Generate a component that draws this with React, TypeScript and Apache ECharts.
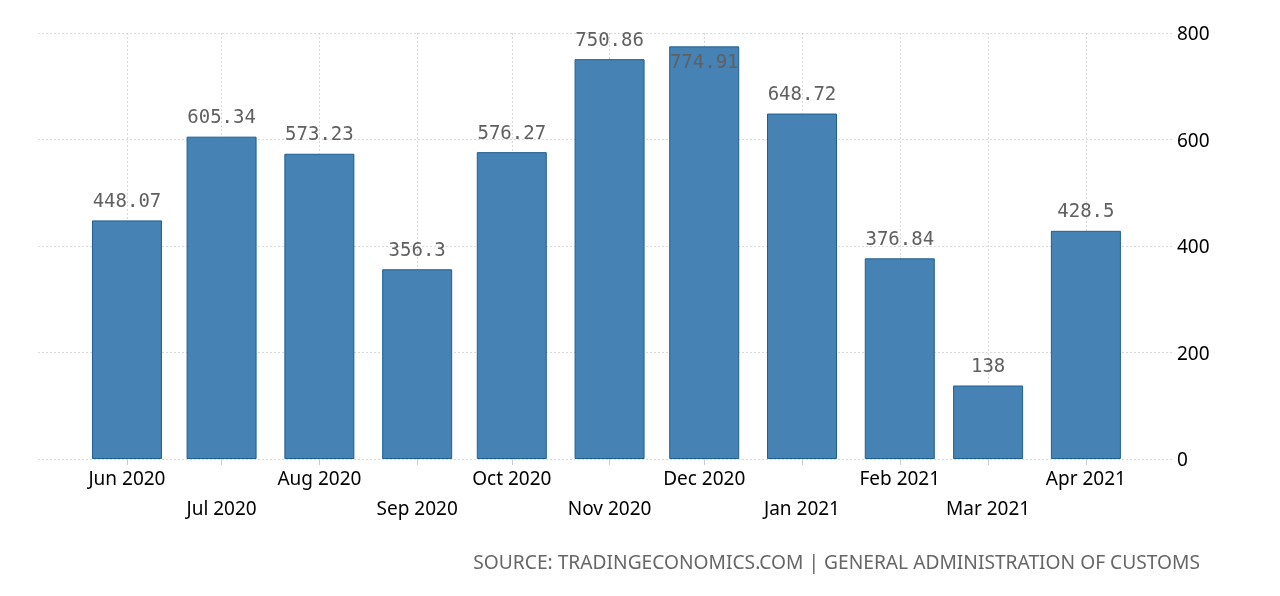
import React, { useEffect, useRef } from "react";
import * as echarts from "echarts";

const months: string[] = [
  "2020-06-01", "2020-07-01", "2020-08-01", "2020-09-01", "2020-10-01", "2020-11-01",
  "2020-12-01", "2021-01-01", "2021-02-01", "2021-03-01", "2021-04-01",
];
const monthLabels: string[] = [
  "Jun 2020", "Jul 2020", "Aug 2020", "Sep 2020", "Oct 2020", "Nov 2020",
  "Dec 2020", "Jan 2021", "Feb 2021", "Mar 2021", "Apr 2021",
];
const values: number[] = [448.07, 605.34, 573.23, 356.3, 576.27, 750.86, 774.91, 648.72, 376.84, 138, 428.5];
const yTicks: number[] = [0, 200, 400, 600, 800];
const sourceText = "SOURCE: TRADINGECONOMICS.COM | GENERAL ADMINISTRATION OF CUSTOMS";

const DAY = 86400000;

export default function App() {
  const ref = useRef<HTMLDivElement>(null);
  useEffect(() => {
    if (!ref.current) return;
    const chart = echarts.init(ref.current, null, { renderer: "svg" });
    // day number of the first day of each month
    const days = months.map((m) => Math.round(Date.parse(m + "T00:00:00Z") / DAY));
    const labelOf = new Map<number, { text: string; row: number }>();
    days.forEach((d, i) => labelOf.set(d, { text: monthLabels[i], row: i % 2 }));
    const gridLine = { color: "#d9d9d9", type: [2, 2] as any, width: 1 };
    chart.setOption({
      animation: false,
      grid: { left: 38, right: 108, top: 33, bottom: 137, containLabel: false },
      xAxis: {
        type: "value",
        min: days[0] - 28.2,
        max: days[days.length - 1] + 27.3,
        axisLine: { show: false },
        axisTick: { show: true, customValues: days, length: 6, lineStyle: { color: "#cccccc" } },
        splitLine: { show: true, lineStyle: gridLine },
        axisLabel: {
          customValues: days,
          margin: 4,
          color: "#000000",
          fontFamily: "Noto Sans",
          fontSize: 19,
          lineHeight: 30,
          verticalAlign: "top",
          showMinLabel: true,
          showMaxLabel: true,
          formatter: (v: number) => {
            const l = labelOf.get(Math.round(v));
            if (!l) return "";
            return l.row === 0 ? l.text : "\n" + l.text;
          },
        },
      },
      yAxis: {
        type: "value",
        position: "right",
        min: 0,
        max: 800,
        interval: 200,
        axisLine: { show: false },
        axisTick: { show: false },
        splitLine: { show: true, lineStyle: gridLine },
        axisLabel: {
          margin: 5,
          color: "#000000",
          fontFamily: "Noto Sans",
          fontSize: 19,
          formatter: (v: number) => (yTicks.includes(v) ? String(v) : ""),
        },
      },
      series: [
        {
          type: "bar",
          barWidth: 70,
          data: days.map((d, i) => {
            const item: any = { value: [d, values[i]] };
            if (values[i] > 760) {
              item.label = { position: "insideTop", distance: 5 };
            }
            return item;
          }),
          itemStyle: { color: "#4682b4", borderColor: "#1d5f93", borderWidth: 1 },
          label: {
            show: true,
            position: "top",
            distance: 11,
            color: "#606060",
            fontFamily: "DejaVu Sans Mono",
            fontSize: 19,
            formatter: (p: any) => String(values[p.dataIndex]),
          },
        },
      ],
      graphic: [
        {
          type: "text",
          right: 80,
          top: 552,
          style: {
            text: sourceText,
            fill: "#666666",
            font: "19.2px 'Noto Sans'",
          },
        },
      ],
    });
    return () => chart.dispose();
  }, []);
  return <div ref={ref} style={{ position: "fixed", left: 0, top: 0, width: 1280, height: 596 }} />;
}
